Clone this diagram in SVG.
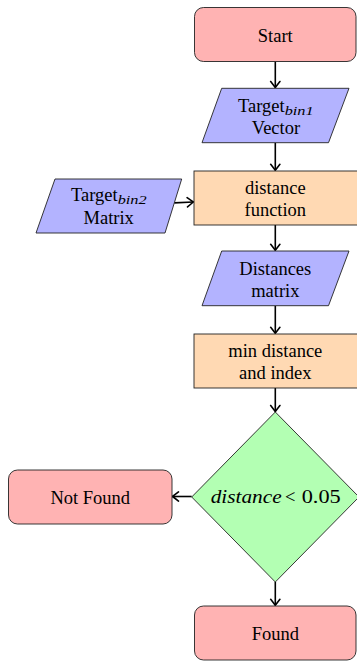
<svg xmlns="http://www.w3.org/2000/svg" width="357" height="661" viewBox="0 0 357 661" font-family="'Liberation Serif', 'Times New Roman', serif">
  <defs>
    <style>
      text { font-family: 'Liberation Serif', 'Times New Roman', serif; font-size: 18.5px; fill: #000; }
      .mid { text-anchor: middle; }
      .it { font-style: italic; }
      .sub { font-style: italic; font-size: 13px; }
      .term { fill: #ffb3b3; stroke: #222; stroke-width: 0.9; }
      .io { fill: #b3b3ff; stroke: #222; stroke-width: 0.9; }
      .proc { fill: #ffd9b3; stroke: #222; stroke-width: 0.9; }
      .dec { fill: #b3ffb3; stroke: #222; stroke-width: 0.9; }
      .edge { fill: none; stroke: #000; stroke-width: 1.6; marker-end: url(#arrow); }
    </style>
    <marker id="arrow" viewBox="-8 -6 10 12" markerWidth="10" markerHeight="12" refX="0" refY="0" orient="auto" markerUnits="userSpaceOnUse">
      <path d="M -6,-4.6 Q -1.8,-1.4 0,0 Q -1.8,1.4 -6,4.6" fill="none" stroke="#000" stroke-width="1.6" stroke-linecap="round" stroke-linejoin="round"/>
    </marker>
  </defs>

  <!-- connectors -->
  <g id="edges">
    <line class="edge" x1="275.3" y1="61.5" x2="275.3" y2="87.5"/>
    <line class="edge" x1="275.3" y1="142.7" x2="275.3" y2="170.3"/>
    <line class="edge" x1="174.3" y1="202.9" x2="193.3" y2="202"/>
    <line class="edge" x1="275.3" y1="225" x2="275.3" y2="250.3"/>
    <line class="edge" x1="275.3" y1="305.7" x2="275.3" y2="333.3"/>
    <line class="edge" x1="275.3" y1="388" x2="275.3" y2="411.5"/>
    <line class="edge" x1="191.7" y1="496.5" x2="172.5" y2="496.5"/>
    <line class="edge" x1="275.3" y1="582" x2="275.3" y2="605.3"/>
  </g>

  <g id="start">
    <rect class="term" x="194.5" y="7.5" width="161.5" height="54" rx="9"/>
    <text class="mid" x="275.3" y="41.5">Start</text>
  </g>

  <g id="target-bin1">
    <polygon class="io" points="221.7,88.3 349,88.3 328.5,142.7 202,142.7"/>
    <text x="238" y="111.5">Target<tspan class="sub" dy="3" textLength="29" lengthAdjust="spacingAndGlyphs">bin1</tspan></text>
    <text class="mid" x="276" y="133.5">Vector</text>
  </g>

  <g id="target-bin2">
    <polygon class="io" points="55,179 181.7,179 165,233 36,233"/>
    <text x="71" y="201">Target<tspan class="sub" dy="3" textLength="29" lengthAdjust="spacingAndGlyphs">bin2</tspan></text>
    <text class="mid" x="108.7" y="223.5">Matrix</text>
  </g>

  <g id="distance-function">
    <rect class="proc" x="194" y="171" width="163.5" height="54"/>
    <text class="mid" x="275.3" y="193.5">distance</text>
    <text class="mid" x="275.3" y="215.5">function</text>
  </g>

  <g id="distances-matrix">
    <polygon class="io" points="221.7,251 349,251 328.5,305.7 202,305.7"/>
    <text class="mid" x="275.3" y="274.5">Distances</text>
    <text class="mid" x="275.3" y="296.5">matrix</text>
  </g>

  <g id="min-distance">
    <rect class="proc" x="194" y="334" width="163.5" height="54"/>
    <text class="mid" x="275.3" y="356.8">min distance</text>
    <text class="mid" x="275.3" y="378.5">and index</text>
  </g>

  <g id="decision">
    <polygon class="dec" points="275.3,412 359,497 275.3,582 191.7,497"/>
    <text y="503"><tspan class="it" x="210.7" textLength="71" lengthAdjust="spacingAndGlyphs">distance</tspan><tspan x="285">&lt;</tspan><tspan x="301.7" textLength="39" lengthAdjust="spacingAndGlyphs">0.05</tspan></text>
  </g>

  <g id="not-found">
    <rect class="term" x="8.5" y="470" width="163.5" height="54" rx="9"/>
    <text class="mid" x="90.3" y="503.5">Not Found</text>
  </g>

  <g id="found">
    <rect class="term" x="194.5" y="606" width="161.5" height="54" rx="9"/>
    <text class="mid" x="275.3" y="640">Found</text>
  </g>
</svg>
